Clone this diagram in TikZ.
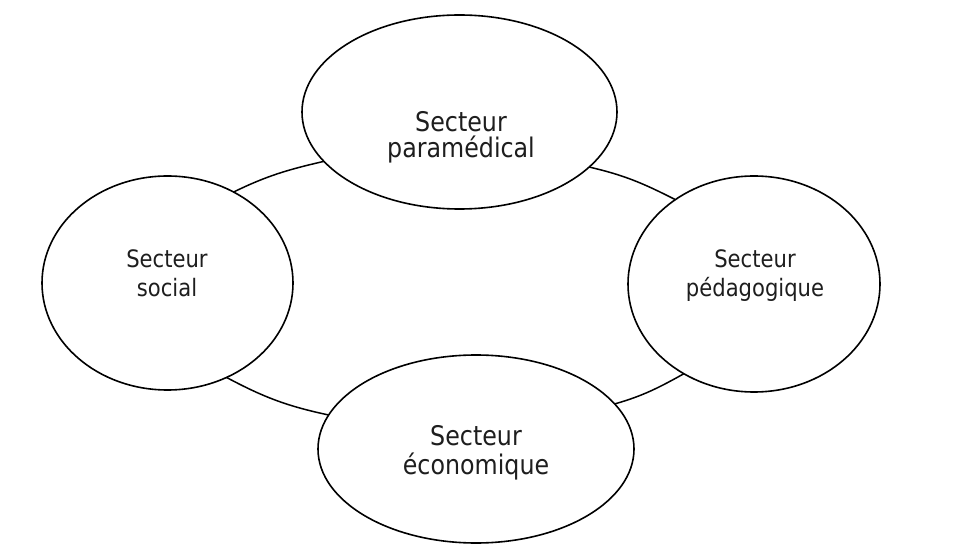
\documentclass[tikz,border=0pt]{standalone}
\usepackage{fontspec}
\newfontfamily\labfont[FakeStretch=0.88]{DejaVu Sans}
\usetikzlibrary{shapes.geometric}
\definecolor{ink}{HTML}{1e1e1e}
\begin{document}
\begin{tikzpicture}[x=1pt,y=1pt,
  sector/.style={ellipse,draw=black,line width=1.6pt,fill=white,inner sep=0pt,outer sep=0pt},
  link/.style={draw=black,line width=1.5pt},
  bigtxt/.style={inner sep=0pt,anchor=base,text=ink,font=\labfont\fontsize{27}{28}\selectfont},
  smalltxt/.style={inner sep=0pt,anchor=base,text=ink,font=\labfont\fontsize{24}{28}\selectfont}]
\useasboundingbox[fill=white] (0,0) rectangle (980,544);
% ellipses
\node[sector,minimum width=315pt,minimum height=194pt] (T) at (459.5,432) {};
\node[sector,minimum width=251pt,minimum height=214pt] (L) at (167.5,261) {};
\node[sector,minimum width=252pt,minimum height=216pt] (R) at (754,260) {};
\node[sector,minimum width=316pt,minimum height=188pt] (B) at (476,95) {};
% connectors
\draw[link] (L.54) to[out=26,in=193] (T.200);
\draw[link] (T.337) to[out=-13,in=153] (R.133);
\draw[link] (L.302) to[out=-28,in=168] (B.167);
\draw[link] (B.18) to[out=16,in=209] (R.232);
% labels
\node[bigtxt] (t1) at (461,412) {Secteur};
\node[bigtxt] (t2) at (461,386) {paramédical};
\node[smalltxt] (l1) at (167,276) {Secteur};
\node[smalltxt] (l2) at (167,247) {social};
\node[smalltxt] (r1) at (755,276) {Secteur};
\node[smalltxt] (r2) at (755,247) {pédagogique};
\node[bigtxt] (b1) at (476,99) {Secteur};
\node[bigtxt] (b2) at (476,70) {économique};
\end{tikzpicture}
\end{document}
